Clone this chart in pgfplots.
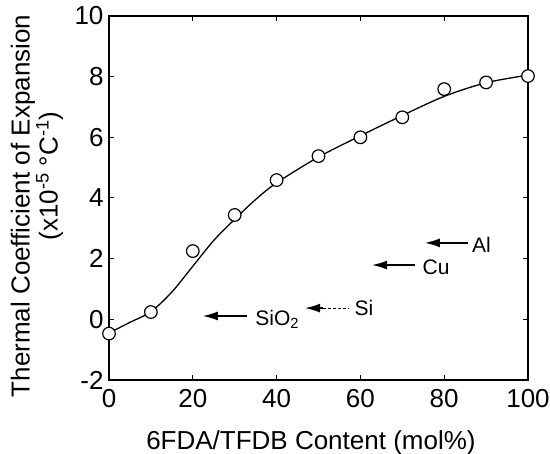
\documentclass[border=0pt]{standalone}
\usepackage{pgfplots}
\pgfplotsset{compat=1.18}
\usepackage{fontspec}
\setmainfont{Liberation Sans}
\usetikzlibrary{arrows.meta}
\begin{document}
\begin{tikzpicture}
\useasboundingbox (-109pt,-74pt) rectangle (441pt,380pt);
\begin{axis}[
  at={(0pt,0pt)}, anchor=south west,
  scale only axis, width=419pt, height=364pt,
  xmin=0, xmax=100, ymin=-2, ymax=10,
  xtick={0,20,...,100}, ytick={-2,0,...,10},
  tick align=inside, major tick length=5pt,
  axis line style={line width=1.2pt}, every tick/.style={line width=1pt,black},
  /pgf/number format/assume math mode=true,
  ticklabel style={font=\fontsize{26}{26}\selectfont},
  xticklabel style={yshift=-6pt},
  yticklabel style={xshift=-2pt},
  xlabel={6FDA/TFDB Content (mol\%)},
  xlabel style={font=\fontsize{26}{26}\selectfont, at={(axis description cs:0.482,-0.172)}, anchor=center},
  ylabel={Thermal Coefficient of Expansion\\\hspace*{60pt}(x10\textsuperscript{-5} °C\textsuperscript{-1})},
  ylabel style={font=\fontsize{26}{28}\selectfont, align=center, at={(axis description cs:-0.172,0.478)}, anchor=center, rotate=0},
  clip=false,
]
\addplot[black, line width=1.3pt, smooth, tension=0.5] coordinates {
 (0,-0.45) (5,-0.1) (10,0.25) (15,0.9) (20,1.75) (25,2.6) (30,3.3) (35,3.95) (40,4.5) (50,5.35) (60,6.05) (70,6.72) (80,7.35) (90,7.8) (100,8.05)
};
\addplot[only marks, mark=*, mark size=6.3pt, mark options={fill=white, draw=black, line width=1.2pt}] coordinates {
 (0,-0.47) (10,0.24) (20,2.25) (30,3.44) (40,4.59) (50,5.38) (60,6.0) (70,6.66) (80,7.59) (90,7.81) (100,8.02)
};
\draw[line width=1.4pt, {Latex[length=15pt,width=9pt]}-] (axis cs:75.4,2.52) -- (axis cs:85.7,2.52);
\node[anchor=west, inner sep=0pt, font=\fontsize{21}{21}\selectfont] at (axis cs:86.6,2.45) {Al};
\draw[line width=1.4pt, {Latex[length=15pt,width=9pt]}-] (axis cs:62.8,1.79) -- (axis cs:73.0,1.79);
\node[anchor=west, inner sep=0pt, font=\fontsize{21}{21}\selectfont] at (axis cs:74.8,1.72) {Cu};
\draw[line width=1.3pt, {Latex[length=15pt,width=9pt]}-] (axis cs:46.8,0.37) -- (axis cs:51,0.37);
\draw[line width=0.9pt, densely dashed] (axis cs:51,0.37) -- (axis cs:57.0,0.37);
\node[anchor=west, inner sep=0pt, font=\fontsize{21}{21}\selectfont] at (axis cs:58.6,0.38) {Si};
\draw[line width=1.4pt, {Latex[length=15pt,width=9pt]}-] (axis cs:22.4,0.11) -- (axis cs:32.9,0.11);
\node[anchor=west, inner sep=0pt, font=\fontsize{21}{21}\selectfont] at (axis cs:34.9,0.0) {SiO\textsubscript{2}};
\end{axis}
\end{tikzpicture}
\end{document}
